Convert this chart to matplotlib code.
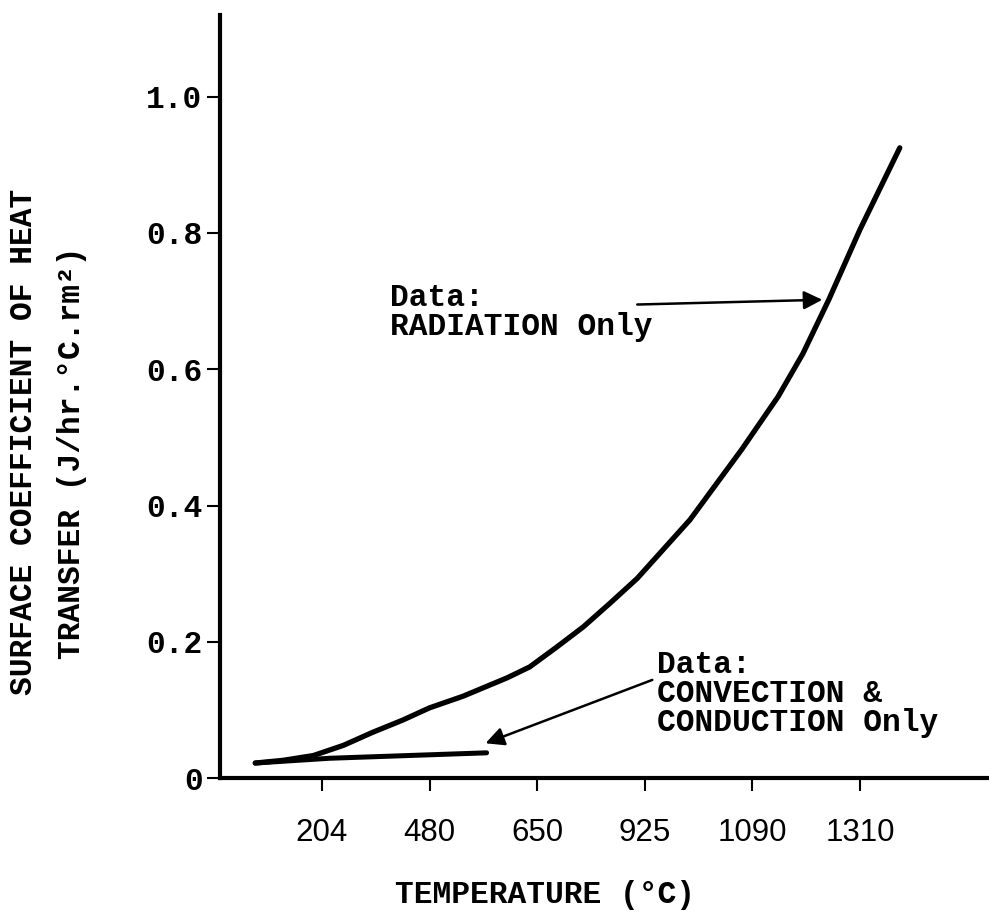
import numpy as np
import matplotlib
matplotlib.use("Agg")
import matplotlib.pyplot as plt

# x positions are in tick units (the temperature axis is evenly spaced labels)
temp_labels = ['204', '480', '650', '925', '1090', '1310']
temp_pos = [1, 2, 3, 4, 5, 6]

y_ticks = [0, 0.2, 0.4, 0.6, 0.8, 1.0]
y_tick_labels = ['0', '0.2', '0.4', '0.6', '0.8', '1.0']

# radiation only curve
rad_x = [0.38, 0.64, 0.92, 1.20, 1.47, 1.75, 2.00, 2.31, 2.72, 2.93, 3.18, 3.43, 3.68,
         3.93, 4.42, 4.90, 5.24, 5.47, 5.71, 6.00, 6.37]
rad_y = [0.022, 0.026, 0.033, 0.048, 0.067, 0.085, 0.103, 0.120, 0.147, 0.163, 0.192, 0.222, 0.257,
         0.293, 0.379, 0.482, 0.560, 0.623, 0.702, 0.805, 0.925]

# convection & conduction only
conv_x = [0.38, 1.07, 2.53]
conv_y = [0.022, 0.029, 0.037]

mono = 'Liberation Mono'
fs = 22.5

fig = plt.figure(figsize=(9.89, 9.19), dpi=100)
ax = fig.add_axes([0.2224, 0.1534, 0.7755, 0.8303])

ax.plot(rad_x, rad_y, color='black', lw=3.8, solid_capstyle='round', solid_joinstyle='round')
ax.plot(conv_x, conv_y, color='black', lw=3.6, solid_capstyle='round')

ax.set_xlim(0.052, 7.18)
ax.set_ylim(0, 1.12)

for s in ['top', 'right']:
    ax.spines[s].set_visible(False)
for s in ['left', 'bottom']:
    ax.spines[s].set_linewidth(3.0)

ax.set_xticks(temp_pos)
ax.set_xticklabels(temp_labels, family='Liberation Sans', fontsize=22.5)
ax.set_yticks(y_ticks)
ax.set_yticklabels(y_tick_labels, family=mono, fontsize=fs, fontweight='bold')
ax.tick_params(axis='x', direction='out', length=9.5, width=1.5, pad=19)
ax.tick_params(axis='y', direction='out', length=9.5, width=1.5, pad=3)

arrow = dict(arrowstyle='-|>', lw=1.8, color='black', mutation_scale=28, shrinkA=0, shrinkB=0)
ax.annotate('', xy=(5.65, 0.702), xytext=(3.93, 0.695), arrowprops=arrow)
ax.annotate('', xy=(2.52, 0.051), xytext=(4.07, 0.144), arrowprops=arrow)

ax.text(1.63, 0.727, 'Data:\nRADIATION Only', family=mono, fontsize=fs, fontweight='bold',
        ha='left', va='top', linespacing=0.95)
ax.text(4.11, 0.188, 'Data:\nCONVECTION &\nCONDUCTION Only', family=mono, fontsize=fs,
        fontweight='bold', ha='left', va='top', linespacing=0.95)

fig.text(545 / 989, 1 - 895 / 919, 'TEMPERATURE (°C)', family=mono, fontsize=fs,
         fontweight='bold', ha='center', va='center')
fig.text(24 / 989, 1 - 442 / 919, 'SURFACE COEFFICIENT OF HEAT', family=mono, fontsize=fs,
         fontweight='bold', rotation=90, ha='center', va='center')
fig.text(72 / 989, 1 - 453 / 919, 'TRANSFER (J/hr.°C.rm²)', family=mono, fontsize=fs,
         fontweight='bold', rotation=90, ha='center', va='center')

fig.savefig('out.png', dpi=100)
